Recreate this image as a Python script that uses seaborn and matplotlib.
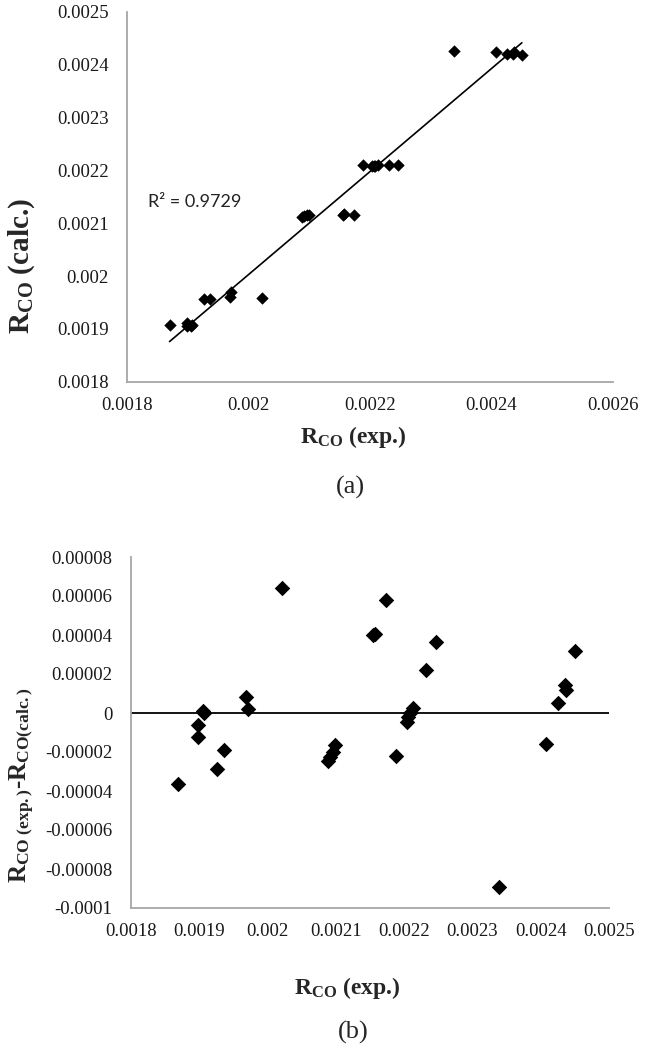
import numpy as np
import pandas as pd
import matplotlib
matplotlib.use("Agg")
import matplotlib.pyplot as plt
import seaborn as sns

# ---------------- data ----------------
rco_exp = [0.001870, 0.001898, 0.001899, 0.001906, 0.001907, 0.001927, 0.001937,
           0.001969, 0.001972, 0.002022, 0.002088, 0.002092, 0.002096, 0.002099,
           0.002155, 0.002158, 0.002174, 0.002188, 0.002204, 0.002206, 0.002208,
           0.002213, 0.002232, 0.002246, 0.002338, 0.002408, 0.002425, 0.002435,
           0.002437, 0.002450]
rco_calc = [0.0019065, 0.0019104, 0.0019054, 0.0019050, 0.0019068, 0.0019558, 0.0019559,
            0.0019607, 0.0019702, 0.0019577, 0.0021125, 0.0021144, 0.0021162, 0.0021152,
            0.0021148, 0.0021175, 0.0021162, 0.0022099, 0.0022087, 0.0022081, 0.0022080,
            0.0022102, 0.0022099, 0.0022096, 0.0024271, 0.0024238, 0.0024198, 0.0024207,
            0.0024252, 0.0024181]
residual = [-0.0000365, -0.0000124, -0.0000064, 0.0000010, 0.0000002, -0.0000288, -0.0000189,
            0.0000083, 0.0000018, 0.0000643, -0.0000245, -0.0000224, -0.0000202, -0.0000162,
            0.0000402, 0.0000405, 0.0000578, -0.0000219, -0.0000047, -0.0000021, 0.0000000,
            0.0000028, 0.0000221, 0.0000364, -0.0000891, -0.0000158, 0.0000052, 0.0000143,
            0.0000118, 0.0000319]
r2_label = "R² = 0.9729"
top_xticks = [0.0018, 0.0020, 0.0022, 0.0024, 0.0026]
top_yticks = [0.0018, 0.0019, 0.0020, 0.0021, 0.0022, 0.0023, 0.0024, 0.0025]
bot_xticks = [0.0018, 0.0019, 0.0020, 0.0021, 0.0022, 0.0023, 0.0024, 0.0025]
bot_yticks = [-0.0001, -0.00008, -0.00006, -0.00004, -0.00002, 0.0, 0.00002, 0.00004, 0.00006, 0.00008]

df = pd.DataFrame({"exp": rco_exp, "calc": rco_calc, "res": residual})

# ---------------- style ----------------
sns.set_theme(style="white")
plt.rcParams["font.family"] = ["Liberation Serif", "DejaVu Serif"]
plt.rcParams["mathtext.fontset"] = "custom"
plt.rcParams["mathtext.rm"] = "Liberation Serif"
plt.rcParams["mathtext.bf"] = "Liberation Serif:bold"
plt.rcParams["mathtext.it"] = "Liberation Serif:italic"

W, H = 645, 1048
fig = plt.figure(figsize=(W / 100, H / 100), dpi=100)

def px_axes(l, t, r, b):
    return fig.add_axes([l / W, 1 - b / H, (r - l) / W, (b - t) / H])

ax1 = px_axes(127, 12, 613, 381.7)
ax2 = px_axes(130.6, 557, 609.3, 908)

spine_col = "#a6a6a6"

def fmt(v):
    s = f"{v:.5f}".rstrip("0").rstrip(".")
    return "0" if s in ("-0", "") else s

def style_axes(ax, xt, yt):
    for s in ["top", "right"]:
        ax.spines[s].set_visible(False)
    for s in ["left", "bottom"]:
        ax.spines[s].set_color(spine_col)
        ax.spines[s].set_linewidth(1.3)
    ax.set_xticks(xt)
    ax.set_yticks(yt)
    ax.set_xticklabels([fmt(v) for v in xt])
    ax.set_yticklabels([fmt(v) for v in yt])
    ax.tick_params(axis="both", direction="out", length=6, width=1.3, color=spine_col,
                   labelsize=13.5, labelcolor="#1a1a1a")
    ax.tick_params(axis="y", pad=7)
    ax.tick_params(axis="x", pad=5)
    ax.set_xlim(xt[0], xt[-1])
    ax.set_ylim(yt[0], yt[-1])
    ax.set_xlabel("")
    ax.set_ylabel("")
    ax.grid(False)

# ---------------- (a) parity plot ----------------
sns.regplot(data=df, x="exp", y="calc", ax=ax1, scatter=False, ci=None, truncate=True,
            line_kws={"color": "black", "linewidth": 1.2})
sns.scatterplot(data=df, x="exp", y="calc", ax=ax1, marker="D", s=40, color="black",
                edgecolor="black", linewidth=0, zorder=3)
style_axes(ax1, top_xticks, top_yticks)
ax1.text(0.001834, 0.002140, r2_label, family=["Lato", "DejaVu Sans"], fontsize=13,
         color="#222222", va="center", ha="left")

# ---------------- (b) residual plot ----------------
ax2.axhline(0, color="black", linewidth=1.3, zorder=1)
sns.scatterplot(data=df, x="exp", y="res", ax=ax2, marker="D", s=62, color="black",
                edgecolor="black", linewidth=0, zorder=3)
style_axes(ax2, bot_xticks, bot_yticks)

# ---------------- labels ----------------
fig.text(353 / W, 1 - 437 / H, r"$\mathbf{R}_{\mathbf{CO}}$ (exp.)", fontsize=17,
         fontweight="bold", ha="center", va="center")
fig.text(350 / W, 1 - 487 / H, "(a)", fontsize=19, ha="center", va="center")
fig.text(22 / W, 1 - 266 / H, r"$\mathbf{R}_{\mathbf{CO}}$ (calc.)", fontsize=21,
         fontweight="bold", ha="center", va="center", rotation=90)

fig.text(347 / W, 1 - 988 / H, r"$\mathbf{R}_{\mathbf{CO}}$ (exp.)", fontsize=17,
         fontweight="bold", ha="center", va="center")
fig.text(353 / W, 1 - 1032 / H, "(b)", fontsize=19, ha="center", va="center")
fig.text(22 / W, 1 - 785 / H,
         r"$\mathbf{R}_{\mathbf{CO\ (exp.)}}$-$\mathbf{R}_{\mathbf{CO(calc.)}}$",
         fontsize=18, fontweight="bold", ha="center", va="center", rotation=90)

fig.savefig("out.png", dpi=100, facecolor="white")
